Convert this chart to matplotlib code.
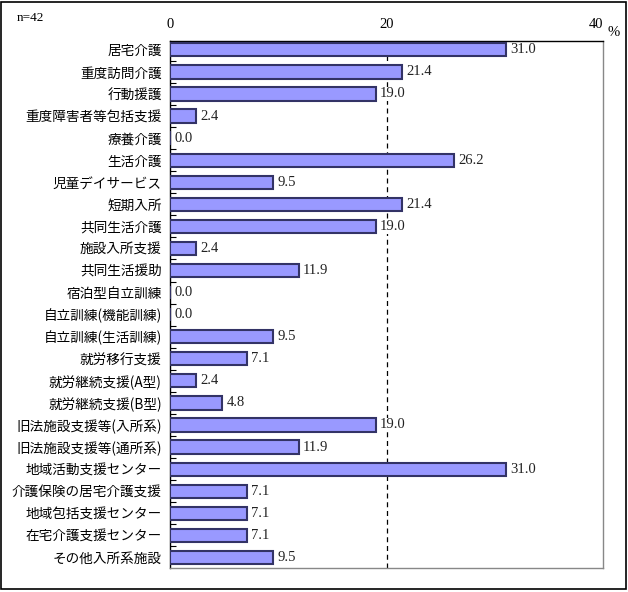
import matplotlib
matplotlib.use("Agg")
import matplotlib.pyplot as plt
from matplotlib.patches import Rectangle

categories = ["居宅介護", "重度訪問介護", "行動援護", "重度障害者等包括支援", "療養介護",
              "生活介護", "児童デイサービス", "短期入所", "共同生活介護", "施設入所支援",
              "共同生活援助", "宿泊型自立訓練", "自立訓練(機能訓練)", "自立訓練(生活訓練)",
              "就労移行支援", "就労継続支援(A型)", "就労継続支援(B型)", "旧法施設支援等(入所系)",
              "旧法施設支援等(通所系)", "地域活動支援センター", "介護保険の居宅介護支援",
              "地域包括支援センター", "在宅介護支援センター", "その他入所系施設"]
values = [31.0, 21.4, 19.0, 2.4, 0.0, 26.2, 9.5, 21.4, 19.0, 2.4, 11.9, 0.0, 0.0, 9.5,
          7.1, 2.4, 4.8, 19.0, 11.9, 31.0, 7.1, 7.1, 7.1, 9.5]
x_ticks = [0, 20, 40]

jp = ["Noto Sans CJK JP", "DejaVu Sans"]
num = ["Liberation Serif", "DejaVu Serif"]

fig = plt.figure(figsize=(6.28, 5.92), dpi=100)
ax = fig.add_axes([170/628, 24/592, 433/628, 527/592])

n = len(categories)
pos = list(range(n))
ax.barh(pos, values, height=0.6, color="#9999FF", edgecolor="#333366", linewidth=1.5, zorder=3)
for p, v in zip(pos, values):
    ax.text(v + 0.4, p, f"{v:.1f}", va="center", ha="left", fontsize=10.5,
            family=num, color="#222222", zorder=4,
            bbox=dict(facecolor="white", edgecolor="none", pad=0.5))

ax.set_xlim(0, 40)
ax.set_ylim(n - 1 + 0.48, -0.4)
ax.axvline(20, color="black", linestyle=(0, (4, 3)), linewidth=0.9, zorder=2)

ax.xaxis.tick_top()
ax.set_xticks(x_ticks)
ax.set_xticklabels([str(t) for t in x_ticks], family=num, fontsize=10.5)
ax.tick_params(axis="x", length=0, pad=7.5)
ax.get_xticklabels()[-1].set_horizontalalignment("right")

ax.set_yticks(pos)
ax.set_yticklabels(categories, family=jp, fontsize=9.8)
ax.tick_params(axis="y", which="major", length=0, pad=6)
ax.set_yticks([p + 0.5 for p in pos[:-1]], minor=True)
ax.tick_params(axis="y", which="minor", direction="in", length=4, width=0.8)

for s in ["top", "left"]:
    ax.spines[s].set_color("black")
    ax.spines[s].set_linewidth(1.0)
for s in ["right", "bottom"]:
    ax.spines[s].set_color("#888888")
    ax.spines[s].set_linewidth(1.0)

fig.text(608/628, 1 - 33/592, "%", family=num, fontsize=10.5, ha="left", va="center")
fig.text(17/628, 1 - 18/592, "n=42", family=num, fontsize=9.5, ha="left", va="center")

fig.patches.append(Rectangle((1/628, 3/592), 625/628, 587/592, transform=fig.transFigure,
                             fill=False, edgecolor="black", linewidth=1.2))

fig.savefig("out.png", dpi=100)
